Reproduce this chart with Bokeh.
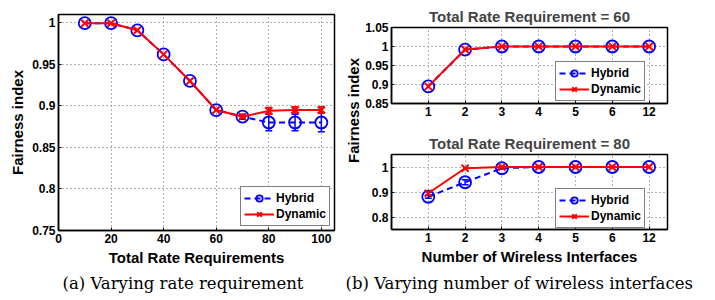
import numpy as np
from bokeh.plotting import figure
from bokeh.models import (ColumnDataSource, Whisker, TeeHead, FixedTicker,
                          CustomJSTickFormatter, Range1d, Label)
from bokeh.layouts import row, column
from bokeh.embed import file_html
from bokeh.resources import INLINE

# ---------------- data ----------------
rate = [10, 20, 30, 40, 50, 60, 70, 80, 90, 100]
hybrid_rate = [0.9995, 0.9995, 0.991, 0.962, 0.930, 0.895, 0.887, 0.880, 0.880, 0.880]
hybrid_rate_err = [0, 0, 0, 0, 0, 0, 0.003, 0.010, 0.010, 0.011]
dynamic_rate = [0.9995, 0.9995, 0.991, 0.962, 0.930, 0.895, 0.887, 0.894, 0.895, 0.895]
dynamic_rate_err = [0, 0, 0, 0, 0, 0, 0.002, 0.004, 0.004, 0.004]

interfaces = ["1", "2", "3", "4", "5", "6", "12"]
hybrid_60 = [0.895, 0.992, 1.0, 1.0, 1.0, 1.0, 1.0]
dynamic_60 = [0.895, 0.992, 1.0, 1.0, 1.0, 1.0, 1.0]
hybrid_80 = [0.881, 0.939, 0.995, 1.0, 1.0, 1.0, 1.0]
hybrid_80_err = [0.006, 0.010, 0.003, 0, 0, 0, 0]
dynamic_80 = [0.895, 0.995, 1.0, 1.0, 1.0, 1.0, 1.0]

left_xticks = [0, 20, 40, 60, 80, 100]
left_yticks = [0.75, 0.8, 0.85, 0.9, 0.95, 1.0]
top_yticks = [0.85, 0.9, 0.95, 1.0, 1.05]
bottom_yticks = [0.8, 0.9, 1.0]

FONT = "Liberation Sans"
SERIF = "DejaVu Serif"


def style(p, xticks, yticks):
    p.outline_line_color = "black"
    p.outline_line_width = 1.5
    p.background_fill_color = "white"
    p.border_fill_color = "white"
    for ax in p.axis:
        ax.axis_line_width = 1.5
        ax.axis_line_color = "black"
        ax.major_tick_in = 3
        ax.major_tick_out = 0
        ax.minor_tick_in = 0
        ax.minor_tick_out = 0
        ax.major_tick_line_width = 1
        ax.major_label_text_font = FONT
        ax.major_label_text_font_style = "bold"
        ax.major_label_text_font_size = "12px"
        ax.major_label_text_color = "black"
        ax.major_label_standoff = 3
        ax.axis_label_text_font = FONT
        ax.axis_label_text_font_style = "bold"
        ax.axis_label_text_font_size = "15px"
        ax.axis_label_text_color = "black"
        ax.axis_label_standoff = 3
    xt = FixedTicker(ticks=xticks)
    yt = FixedTicker(ticks=yticks)
    p.xaxis.ticker = xt
    p.yaxis.ticker = yt
    p.xgrid.ticker = xt
    p.ygrid.ticker = yt
    p.yaxis.formatter = CustomJSTickFormatter(code="return tick.toString();")
    p.grid.grid_line_color = "#666666"
    p.grid.grid_line_dash = "1 3"
    p.grid.grid_line_width = 1


def whisk(p, x, y, err, color):
    xs = [a for a, e in zip(x, err) if e > 0]
    up = [b + e for b, e in zip(y, err) if e > 0]
    lo = [b - e for b, e in zip(y, err) if e > 0]
    src = ColumnDataSource(dict(x=xs, upper=up, lower=lo))
    w = Whisker(source=src, base="x", upper="upper", lower="lower",
                line_color=color, line_width=1.5,
                upper_head=TeeHead(size=7, line_color=color, line_width=1.5),
                lower_head=TeeHead(size=7, line_color=color, line_width=1.5))
    p.add_layout(w)


def draw(p, x, hy, dy, herr=None, derr=None):
    p.line(x, hy, line_color="blue", line_width=2, line_dash="6 4", legend_label="Hybrid")
    p.scatter(x, hy, marker="circle", size=12, fill_color=None, line_color="blue",
              line_width=1.8, legend_label="Hybrid")
    if herr is not None:
        whisk(p, x, hy, herr, "blue")
    p.line(x, dy, line_color="red", line_width=2, legend_label="Dynamic")
    p.scatter(x, dy, marker="x", size=10, line_color="red", line_width=2,
              legend_label="Dynamic")
    if derr is not None:
        whisk(p, x, dy, derr, "red")


def style_legend(p, loc):
    lg = p.legend[0]
    lg.location = loc
    lg.border_line_color = "black"
    lg.border_line_width = 1.5
    lg.background_fill_color = "white"
    lg.background_fill_alpha = 1
    lg.label_text_font = FONT
    lg.label_text_font_style = "bold"
    lg.label_text_font_size = "12px"
    lg.label_text_color = "black"
    lg.padding = 3
    lg.spacing = 0
    lg.margin = 0
    lg.glyph_width = 30
    lg.glyph_height = 16
    lg.label_height = 16
    lg.label_standoff = 2


# ---------------- left plot ----------------
left = figure(width=338, height=270, x_range=Range1d(0, 105), y_range=Range1d(0.75, 1.01),
              toolbar_location=None, output_backend="svg",
              min_border_left=58, min_border_right=4, min_border_top=14, min_border_bottom=40)
style(left, left_xticks, left_yticks)
left.xaxis.axis_label = "Total Rate Requirements"
left.yaxis.axis_label = "Fairness index"
draw(left, rate, hybrid_rate, dynamic_rate, hybrid_rate_err, dynamic_rate_err)
style_legend(left, (182, 4))

# ---------------- shared y-label for right plots ----------------
lab = figure(width=24, height=270, x_range=Range1d(0, 24), y_range=Range1d(0, 270),
             toolbar_location=None, output_backend="svg", min_border=0)
lab.axis.visible = False
lab.grid.visible = False
lab.outline_line_color = None
lab.add_layout(Label(x=15, y=150, text="Fairness index", angle=np.pi / 2,
                     text_align="center", text_baseline="middle", text_font=FONT,
                     text_font_style="bold", text_font_size="15px", text_color="black"))

# ---------------- right plots ----------------
pos = list(range(1, len(interfaces) + 1))
x_over = {i: s for i, s in zip(pos, interfaces)}

top = figure(width=353, height=130, x_range=Range1d(0, 7.5), y_range=Range1d(0.85, 1.05),
             toolbar_location=None, output_backend="svg", title="Total Rate Requirement = 60",
             min_border_left=27, min_border_right=48, min_border_top=27, min_border_bottom=27)
style(top, pos, top_yticks)
top.xaxis.major_label_overrides = x_over
top.title.align = "center"
top.title.vertical_align = "middle"
top.title.text_font = FONT
top.title.text_font_size = "15px"
top.title.text_font_style = "bold"
top.title.standoff = 4
draw(top, pos, hybrid_60, dynamic_60)
style_legend(top, (164, 2))

bot = figure(width=353, height=140, x_range=Range1d(0, 7.5), y_range=Range1d(0.75, 1.05),
             toolbar_location=None, output_backend="svg", title="Total Rate Requirement = 80",
             min_border_left=27, min_border_right=48, min_border_top=24, min_border_bottom=41)
style(bot, pos, bottom_yticks)
bot.xaxis.major_label_overrides = x_over
bot.xaxis.axis_label = "Number of Wireless Interfaces"
bot.title.align = "center"
bot.title.text_font = FONT
bot.title.text_font_size = "15px"
bot.title.text_font_style = "bold"
bot.title.standoff = 5
draw(bot, pos, hybrid_80, dynamic_80, hybrid_80_err, None)
style_legend(bot, (164, 1))

# ---------------- captions ----------------
cap = figure(width=715, height=30, x_range=Range1d(0, 715), y_range=Range1d(0, 30),
             toolbar_location=None, output_backend="svg", min_border=0)
cap.axis.visible = False
cap.grid.visible = False
cap.outline_line_color = None
for xx, t in [(62, "(a)  Varying rate requirement"), (345, "(b)  Varying number of wireless interfaces")]:
    cap.add_layout(Label(x=xx, y=17, text=t, text_align="left", text_baseline="middle",
                         text_font=SERIF, text_font_size="16.5px", text_color="black"))

layout = column(row(left, lab, column(top, bot, spacing=0), spacing=0), cap, spacing=0)

open("out.html", "w").write(file_html(layout, INLINE))
